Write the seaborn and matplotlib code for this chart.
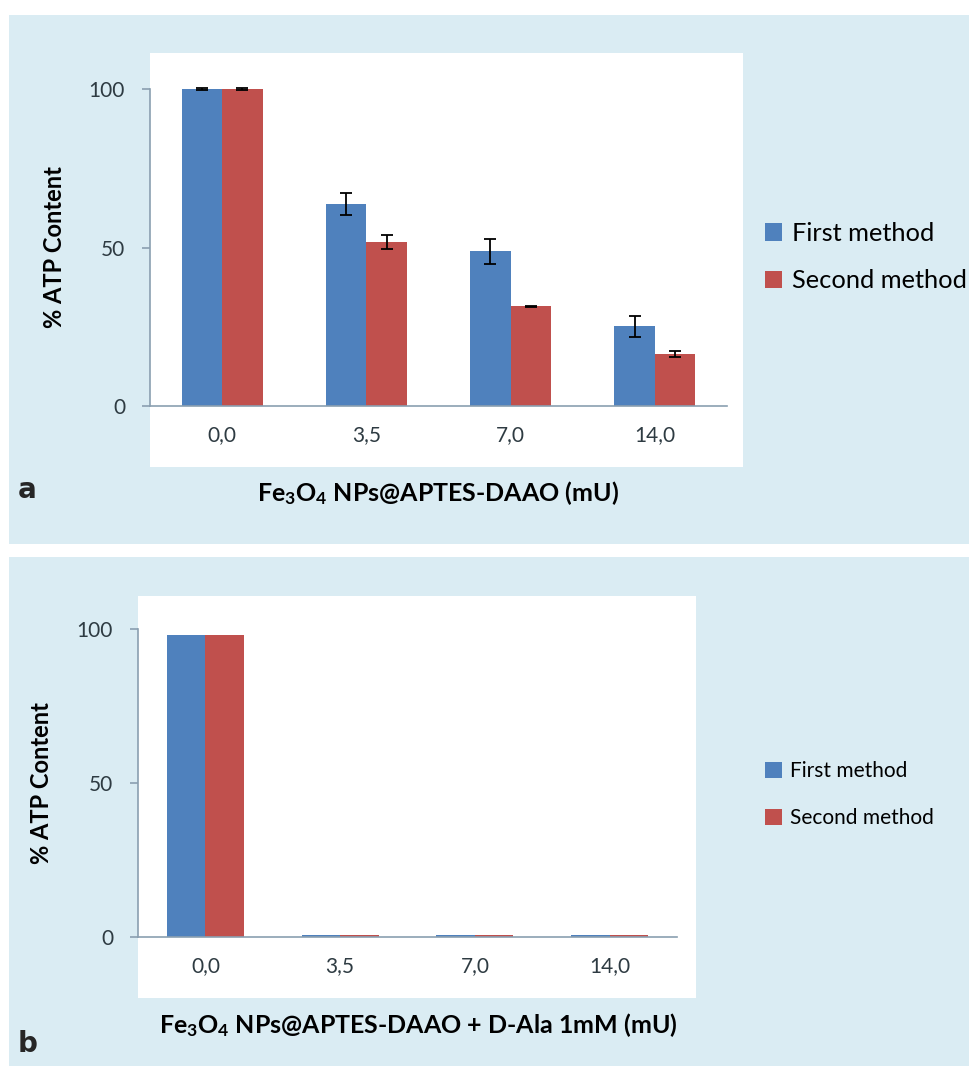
import matplotlib
matplotlib.use("Agg")
import matplotlib.pyplot as plt
from matplotlib.patches import Rectangle
import seaborn as sns
import pandas as pd

# ---------------- data ----------------
categories = ["0,0", "3,5", "7,0", "14,0"]
methods = ["First method", "Second method"]

atp_a_first = [100.0, 63.8, 48.8, 25.1]
atp_a_second = [100.0, 51.7, 31.4, 16.4]
err_a_first = [0.2, 3.4, 4.0, 3.2]
err_a_second = [0.2, 2.3, 0.2, 0.9]

atp_b_first = [98.0, 0.5, 0.5, 0.5]
atp_b_second = [98.0, 0.5, 0.5, 0.5]

yticks = [0, 50, 100]
ylabel = "% ATP Content"
xlabel_a = r"Fe$_3$O$_4$ NPs@APTES-DAAO (mU)"
xlabel_b = r"Fe$_3$O$_4$ NPs@APTES-DAAO + D-Ala 1mM (mU)"

# ---------------- style ----------------
sns.set_theme(style="white")
plt.rcParams["font.family"] = ["Lato", "DejaVu Sans"]
plt.rcParams["mathtext.default"] = "regular"

BLUE = "#4f81bd"
RED = "#c0504d"
PANEL = "#daecf3"
AXIS = "#8a9fb0"
TICKC = "#2e3b42"

W, H = 969, 1066
fig = plt.figure(figsize=(W / 100, H / 100), dpi=100, facecolor="white")


def fx(px):
    return px / W


def fy(py):
    return 1 - py / H


def rect(x0, y0, x1, y1, color, z):
    fig.add_artist(Rectangle((fx(x0), fy(y1)), fx(x1) - fx(x0), fy(y0) - fy(y1),
                             transform=fig.transFigure, facecolor=color,
                             edgecolor="none", zorder=z))


# panel backgrounds and white plot areas
rect(9, 15, 969, 544, PANEL, -10)
rect(9, 557, 969, 1066, PANEL, -10)
rect(150, 53, 743, 467, "white", -9)
rect(138, 596, 696, 998, "white", -9)


def make_df(first, second):
    return pd.DataFrame({
        "dose": categories * 2,
        "atp": list(first) + list(second),
        "method": [methods[0]] * len(categories) + [methods[1]] * len(categories),
    })


def style_axes(ax, xlabel, xlab_x, xlab_y, ylab_x, legend_y, leg_fs,
               leg_hl, leg_ls):
    ax.set_facecolor("none")
    ax.set_ylim(0, 100)
    ax.set_xlim(-0.5, 3.5)
    ax.set_yticks(yticks)
    ax.set_yticklabels([str(t) for t in yticks])
    for s in ["top", "right"]:
        ax.spines[s].set_visible(False)
    for s in ["left", "bottom"]:
        ax.spines[s].set_color(AXIS)
        ax.spines[s].set_linewidth(1.2)
    ax.set_xticks(range(len(categories)))
    ax.set_xticklabels(categories)
    ax.set_xticks([i - 0.5 for i in range(len(categories) + 1)], minor=True)
    ax.tick_params(axis="x", which="major", length=0, pad=14, labelsize=15,
                   labelcolor=TICKC)
    ax.tick_params(axis="x", which="minor", length=6, width=1.2, color=AXIS,
                   direction="out")
    ax.tick_params(axis="y", which="major", length=6, width=1.2, color=AXIS,
                   direction="out", left=True, pad=12, labelsize=15,
                   labelcolor=TICKC)
    ax.set_xlabel(xlabel, fontsize=18, fontweight="bold", color="black")
    ax.xaxis.set_label_coords(xlab_x, xlab_y)
    ax.xaxis.label.set_va("center")
    ax.set_ylabel(ylabel, fontsize=17, fontweight="bold", color="black")
    ax.yaxis.set_label_coords(ylab_x, 0.5)
    ax.yaxis.label.set_va("center")
    sns.move_legend(ax, loc="center left",
                    bbox_to_anchor=(fx(765), legend_y),
                    bbox_transform=fig.transFigure,
                    frameon=False, title=None, fontsize=leg_fs,
                    handlelength=leg_hl, handleheight=leg_hl,
                    handletextpad=0.4, labelspacing=leg_ls,
                    borderpad=0, borderaxespad=0)
    for t in ax.get_legend().get_texts():
        t.set_color("black")


# ---------------- panel a ----------------
ax_a = fig.add_axes([fx(150), fy(406), fx(727) - fx(150), fy(89) - fy(406)])
sns.barplot(data=make_df(atp_a_first, atp_a_second), x="dose", y="atp",
            hue="method", order=categories, hue_order=methods,
            palette=[BLUE, RED], saturation=1, width=0.56, errorbar=None,
            linewidth=0, ax=ax_a)
for cont, errs in zip(ax_a.containers, [err_a_first, err_a_second]):
    xs = [b.get_x() + b.get_width() / 2 for b in cont]
    ys = [b.get_height() for b in cont]
    ax_a.errorbar(xs, ys, yerr=errs, fmt="none", ecolor="black",
                  elinewidth=1.3, capsize=4.5, capthick=1.3, clip_on=False,
                  zorder=5)
style_axes(ax_a, xlabel_a, 0.5, (406 - 493) / 317, (55 - 150) / 577,
           fy(257), 18.3, 0.66, 0.95)

# ---------------- panel b ----------------
ax_b = fig.add_axes([fx(138), fy(937), fx(677) - fx(138), fy(629) - fy(937)])
sns.barplot(data=make_df(atp_b_first, atp_b_second), x="dose", y="atp",
            hue="method", order=categories, hue_order=methods,
            palette=[BLUE, RED], saturation=1, width=0.57, errorbar=None,
            linewidth=0, ax=ax_b)
style_axes(ax_b, xlabel_b, (418 - 138) / 539, (937 - 1025) / 308,
           (42 - 138) / 539, fy(794.5), 15, 0.8, 1.29)

# panel letters
fig.text(fx(18), fy(490), "a", fontsize=20, fontweight="bold",
         family=["DejaVu Sans"], ha="left", va="center")
fig.text(fx(18), fy(1044), "b", fontsize=20, fontweight="bold",
         family=["DejaVu Sans"], ha="left", va="center")

fig.savefig("out.png", dpi=100, facecolor="white")
